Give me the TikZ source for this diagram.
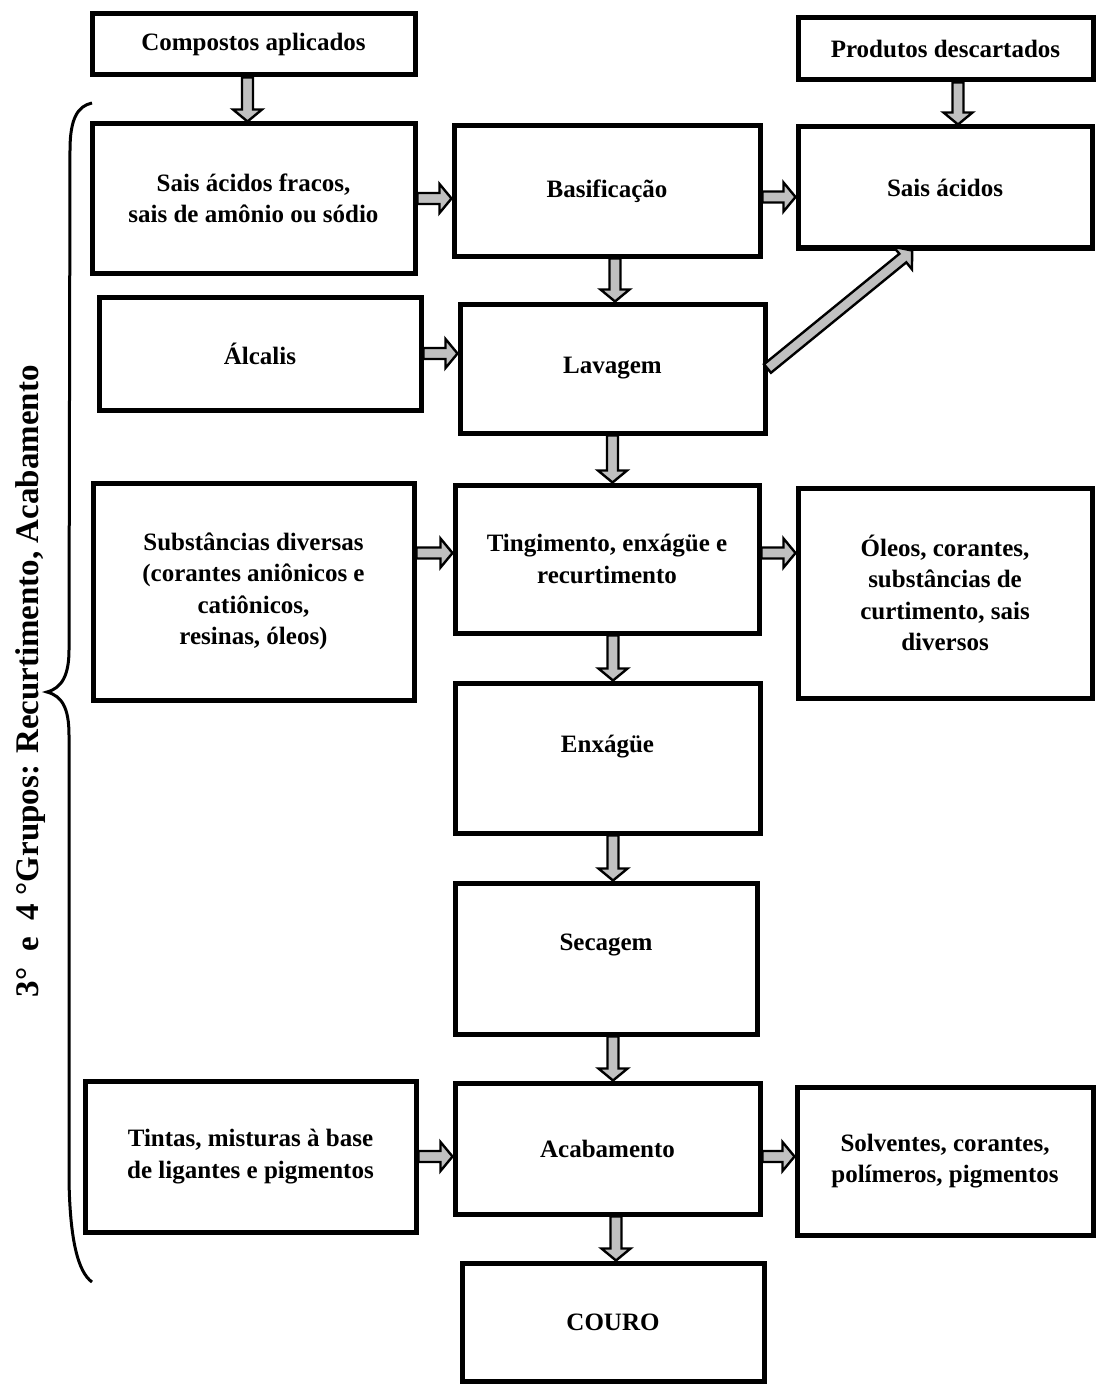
\documentclass[tikz,border=0pt]{standalone}
\usepackage{fontspec}
\setmainfont{Liberation Serif}
\usetikzlibrary{calc}
\definecolor{arrowgray}{RGB}{192,192,192}
\tikzset{
  box/.style={draw=black, line width=5pt, fill=white, inner sep=0pt, align=center,
    font=\bfseries\fontsize{25}{31.5}\selectfont, text=black},
  blkarrow/.style={draw=black, fill=arrowgray, line width=2.4pt, line join=miter},
  bracestyle/.style={draw=black, line width=3pt},
  grplabel/.style={rotate=90, anchor=base east, inner sep=0pt,
    font=\bfseries\fontsize{33}{38}\selectfont}
}
\newcommand\blk[2]{%
  \path (#1) coordinate (bA) (#2) coordinate (bB);
  \path ($(bB)!12pt!(bA)$) coordinate (bH);
  \filldraw[blkarrow] ($(bA)!5.5pt!90:(bB)$) -- ($(bH)!5.5pt!-90:(bA)$) -- ($(bH)!14.5pt!-90:(bA)$) -- (bB)
    -- ($(bH)!14.5pt!90:(bA)$) -- ($(bH)!5.5pt!90:(bA)$) -- ($(bA)!5.5pt!-90:(bB)$) -- cycle;}
\begin{document}
\begin{tikzpicture}[x=1pt,y=-1pt]
\useasboundingbox (0,0) rectangle (1097,1388);
% boxes
\node[box, minimum width=323pt, minimum height=61pt]  (comp)   at (253.5,44.5)  {Compostos aplicados};
\node[box, minimum width=295pt, minimum height=62pt]  (prod)   at (945.5,49)    {Produtos descartados};
\node[box, minimum width=323pt, minimum height=149pt] (sais1)  at (253.5,198.5) {Sais ácidos fracos,\\sais de amônio ou sódio};
\node[box, minimum width=306pt, minimum height=130pt] (basif)  at (607,191)     {Basificação};
\node[box, minimum width=294pt, minimum height=121pt] (saisac) at (945,187.5)   {Sais ácidos};
\node[box, minimum width=322pt, minimum height=113pt] (alc)    at (260,353.5)   {Álcalis};
\node[box, minimum width=305pt, minimum height=129pt] (lav)    at (612.5,368.5) {Lavagem};
\node[box, minimum width=321pt, minimum height=217pt] (subst)  at (253.5,591.5) {Substâncias diversas\\(corantes aniônicos e\\catiônicos,\\resinas, óleos)};
\node[box, minimum width=304pt, minimum height=148pt] (ting)   at (607,559)     {Tingimento, enxágüe e\\recurtimento};
\node[box, minimum width=294pt, minimum height=210pt] (oleos)  at (945,593)     {Óleos, corantes,\\substâncias de\\curtimento, sais\\diversos};
\node[box, minimum width=305pt, minimum height=150pt] (enx)    at (607.5,758)   {\raisebox{5.5pt}[0pt][0pt]{Enxágüe}};
\node[box, minimum width=302pt, minimum height=151pt] (sec)    at (606,958.5)   {\raisebox{8.5pt}[0pt][0pt]{Secagem}};
\node[box, minimum width=331pt, minimum height=151pt] (tintas) at (250.5,1156.5){Tintas, misturas à base\\de ligantes e pigmentos};
\node[box, minimum width=305pt, minimum height=131pt] (acab)   at (607.5,1148.5){Acabamento};
\node[box, minimum width=296pt, minimum height=148pt] (solv)   at (945,1161)    {Solventes, corantes,\\polímeros, pigmentos};
\node[box, minimum width=302pt, minimum height=118pt] (couro)  at (613,1322)    {COURO};
% vertical arrows
\coordinate (v1) at ($(comp.south)+(-6,0)$);
\blk{v1}{v1 |- sais1.north}
\coordinate (v2) at ($(prod.south)+(12.5,0)$);
\blk{v2}{v2 |- saisac.north}
\coordinate (v3) at ($(basif.south)+(8,0)$);
\blk{v3}{v3 |- lav.north}
\blk{lav.south}{lav.south |- ting.north}
\coordinate (v5) at ($(ting.south)+(6,0)$);
\blk{v5}{v5 |- enx.north}
\coordinate (v6) at ($(enx.south)+(5.5,0)$);
\blk{v6}{v6 |- sec.north}
\coordinate (v7) at ($(sec.south)+(7,0)$);
\blk{v7}{v7 |- acab.north}
\coordinate (v8) at ($(acab.south)+(8.5,0)$);
\blk{v8}{v8 |- couro.north}
% horizontal arrows
\blk{sais1.east}{sais1.east -| basif.west}
\coordinate (h2) at ($(basif.east)+(0,6)$);
\blk{h2}{h2 -| saisac.west}
\blk{alc.east}{alc.east -| lav.west}
\coordinate (h4) at ($(ting.west)+(0,-6)$);
\blk{h4 -| subst.east}{h4}
\coordinate (h5) at ($(ting.east)+(0,-6)$);
\blk{h5}{h5 -| oleos.west}
\blk{tintas.east}{tintas.east -| acab.west}
\blk{acab.east |- tintas.east}{tintas.east -| solv.west}
% diagonal arrow
\coordinate (dg) at ($(saisac.south west)!0.39!(saisac.south east)$);
\blk{lav.east}{dg}
% brace
\draw[bracestyle] (92,103) .. controls (78,106) and (70,118) .. (70,150) -- (69,650)
  .. controls (69,675) and (62,688) .. (47,692)
  .. controls (62,696) and (69,708) .. (69,735) -- (69,1180)
  .. controls (70,1240) and (78,1272) .. (92,1282);
% group label
\node[grplabel] (grp) at (38,365) {3°\ \ e\ \ 4 °Grupos: Recurtimento, Acabamento};
\end{tikzpicture}
\end{document}
